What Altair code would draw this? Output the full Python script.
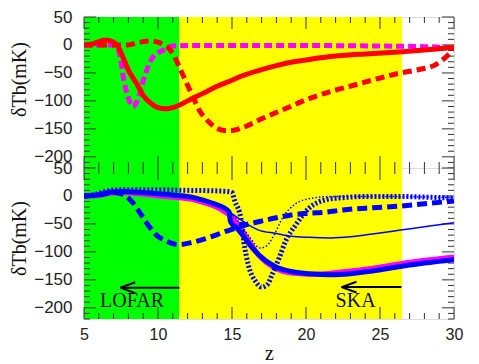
import altair as alt
import pandas as pd

# ---------------- data ----------------
# shaded observing windows (redshift ranges)
band_z0 = [5, 11.45]
band_z1 = [11.45, 26.5]
band_color = ["#00ff00", "#ffff00"]

# top panel
red_solid_z = [5, 5.6, 6.0, 6.5, 7.0, 7.3, 7.6, 8.0, 8.6, 9.0, 9.6, 10.0, 10.5, 11.0, 11.5, 12, 13, 14, 15, 15.7, 17, 18, 19, 20, 21, 22.4, 24, 26.5, 28, 30]
red_solid_T = [0, 2, 6, 9, 5, -3, -20, -45, -71, -90, -106, -112, -114, -112, -107, -100, -87, -74, -63, -55, -44, -37, -31, -27, -23, -19, -16, -12, -9, -4]

red_dash_z = [5, 8, 8.5, 9.0, 9.5, 10.0, 10.4, 10.8, 11.1, 11.45, 12.0, 12.4, 12.8, 13.3, 13.8, 14.5, 15.0, 15.7, 17.0, 18.6, 20.2, 21.7, 23.1, 24.6, 26.4, 27.8, 28.7, 29.3, 30]
red_dash_T = [0, 0, 3, 6, 7, 5, 0, -8, -20, -40, -72, -95, -117, -134, -146, -153, -153, -148, -132, -114, -96, -83, -73, -62, -50, -43, -36, -25, -7]

mag_dash_z = [5, 7.0, 7.2, 7.4, 7.7, 8.0, 8.3, 8.6, 9.0, 9.5, 10.0, 10.3, 11.0, 12, 15, 20, 25, 28, 30]
mag_dash_T = [0, 0, -4, -16, -64, -95, -110, -100, -64, -28, -14, -10, -2, -1, -1, -1, -2, -3, -5]

# bottom panel
blue_solid_z = [5, 6.0, 6.8, 7.5, 9.0, 10.0, 11.4, 12.3, 13.0, 13.7, 14.3, 14.8, 14.9, 15.3, 15.7, 16.2, 16.8, 17.9, 19.0, 20.2, 21.7, 23.0, 24.5, 26.4, 28.0, 30]
blue_solid_T = [0, 2, 7, 8, 6, 4, 1, -2, -7, -13, -19, -28, -46, -57, -69, -87, -105, -126, -135, -139, -141, -139, -134, -126, -120, -114]

mag_solid_z = [5, 6.0, 6.8, 7.5, 9.0, 10.0, 11.4, 12.3, 13.0, 13.7, 14.3, 15.0, 15.7, 16.2, 16.8, 17.9, 19.0, 20.2, 21.7, 23.0, 24.5, 26.4, 28.0, 30]
mag_solid_T = [0, 1, 5, 6, 3, 0, -3, -6, -11, -17, -25, -38, -62, -83, -106, -129, -138, -140, -138, -134, -129, -121, -115, -109]

thin_solid_z = [5, 6.0, 6.8, 7.5, 9.0, 10.0, 11.4, 12.3, 13.0, 13.7, 14.3, 14.8, 15.5, 16.2, 16.8, 18.0, 19.0, 20.2, 21.7, 23.0, 24.5, 26.4, 28, 30]
thin_solid_T = [0, 2, 7, 8, 6, 4, 1, -2, -7, -13, -19, -28, -41, -53, -61, -67, -72, -74, -75, -73, -68, -61, -55, -48]

thin_dot_z = [5, 6.0, 6.8, 7.5, 9.0, 10.0, 11.4, 12.3, 13.0, 13.7, 14.3, 14.8, 15.5, 16.2, 16.9, 17.3, 17.8, 18.4, 19.3, 20.4, 21.7, 25, 30]
thin_dot_T = [0, 2, 7, 8, 6, 4, 1, -2, -7, -13, -19, -28, -48, -74, -93, -90, -72, -40, -14, -4, -1, -1, -3]

thick_dot_z = [5, 5.8, 6.5, 7.5, 10, 12, 14, 14.7, 15.0, 15.2, 15.6, 15.8, 16.1, 16.6, 17.0, 17.4, 17.7, 18.2, 18.6, 19.3, 20.2, 21.3, 22.5, 24, 26.4, 28, 30]
thick_dot_T = [0, 3, 9, 11, 11, 10, 9, 8, 6, -10, -40, -82, -123, -153, -163, -158, -141, -110, -82, -52, -22, -7, -3, -1, -1, -2, -4]

thick_dash_z = [5, 6.0, 7.0, 7.7, 8.3, 8.85, 9.5, 9.9, 10.5, 11.4, 12.3, 13.0, 14.0, 14.5, 15.2, 16.0, 16.8, 18.0, 19.0, 20.2, 21.3, 22.5, 24.5, 26.4, 28, 30]
thick_dash_T = [0, 2, 6, 2, -12, -33, -58, -70, -80, -87, -83, -78, -69, -64, -58, -51, -46, -39, -34, -31, -29, -25, -21, -18, -14, -9]

# annotations
arrow_tail_z = [11.45, 26.45]
arrow_head_z = [7.45, 22.4]
arrow_T = [-164, -163]
label_z = [8.25, 23.35]
label_T = [-188, -188]
label_text = ["LOFAR", "SKA"]

# axis ticks
x_major = [5, 10, 15, 20, 25, 30]
x_minor = [v for v in range(5, 31) if v not in x_major]
y_major = [-200, -150, -100, -50, 0, 50]
y_minor = [v for v in range(-220, 51, 10) if v not in y_major]

# ---------------- chart ----------------
W, H = 370, 151
XS = alt.Scale(domain=[5, 30], nice=False, zero=False)
YS = alt.Scale(domain=[-220, 50], nice=False, zero=False)
TICK_COLOR = "#333333"
LABEL_FONT = "Liberation Sans"
SERIF = "Liberation Serif"

X_AXIS = alt.Axis(values=x_major, ticks=False, domain=False, grid=False,
                  labelFont=LABEL_FONT, labelFontSize=16, labelColor="#222222",
                  labelPadding=7, labelFlush=False,
                  title="z", titleFont=SERIF, titleFontSize=20, titleFontWeight="normal",
                  titleColor="#111111", titlePadding=1)


def y_axis(title_y):
    return alt.Axis(values=y_major, ticks=False, domain=False, grid=False,
                    labelFont=LABEL_FONT, labelFontSize=17, labelColor="#222222", labelPadding=12,
                    title="δTb(mK)", titleFont=SERIF, titleFontSize=20, titleFontWeight="normal",
                    titleColor="#111111", titleX=-55, titleY=title_y)


def panel(specs, show_x, title_y, extras=()):
    xa = X_AXIS if show_x else None
    ya = y_axis(title_y)

    def X(f):
        return alt.X(f, scale=XS, axis=xa)

    def Y(f):
        return alt.Y(f, scale=YS, axis=ya)

    layers = []
    layers.append(
        alt.Chart(pd.DataFrame({"z0": band_z0, "z1": band_z1, "c": band_color})).mark_rect().encode(
            x=X("z0:Q"), x2="z1:Q", color=alt.Color("c:N", scale=None))
    )
    xt_major = pd.DataFrame({"z": x_major})
    xt_minor = pd.DataFrame({"z": x_minor})
    yt_major = pd.DataFrame({"T": y_major})
    yt_minor = pd.DataFrame({"T": y_minor})
    tick = dict(color=TICK_COLOR, strokeWidth=1)
    layers += [
        alt.Chart(xt_major).mark_rule(**tick).encode(x=X("z:Q"), y=alt.value(0), y2=alt.value(12)),
        alt.Chart(xt_minor).mark_rule(**tick).encode(x=X("z:Q"), y=alt.value(0), y2=alt.value(6)),
        alt.Chart(xt_major).mark_rule(**tick).encode(x=X("z:Q"), y=alt.value(H), y2=alt.value(H - 12)),
        alt.Chart(xt_minor).mark_rule(**tick).encode(x=X("z:Q"), y=alt.value(H), y2=alt.value(H - 6)),
        alt.Chart(yt_major).mark_rule(**tick).encode(y=Y("T:Q"), x=alt.value(0), x2=alt.value(12)),
        alt.Chart(yt_minor).mark_rule(**tick).encode(y=Y("T:Q"), x=alt.value(0), x2=alt.value(6)),
        alt.Chart(yt_major).mark_rule(**tick).encode(y=Y("T:Q"), x=alt.value(W), x2=alt.value(W - 12)),
        alt.Chart(yt_minor).mark_rule(**tick).encode(y=Y("T:Q"), x=alt.value(W), x2=alt.value(W - 6)),
    ]
    for z, t, color, width, dash in specs:
        kw = dict(color=color, strokeWidth=width, interpolate="monotone", clip=True, strokeJoin="round")
        if dash:
            kw["strokeDash"] = dash
        layers.append(alt.Chart(pd.DataFrame({"z": z, "T": t})).mark_line(**kw).encode(x=X("z:Q"), y=Y("T:Q")))
    for e in extras:
        layers.append(e(X, Y))
    return alt.layer(*layers).properties(width=W, height=H)


def arrow_lines(X, Y):
    d = pd.DataFrame({"z0": arrow_tail_z, "z1": arrow_head_z, "T": arrow_T})
    return alt.Chart(d).mark_rule(color="black", strokeWidth=2).encode(x=X("z0:Q"), x2="z1:Q", y=Y("T:Q"))


def arrow_heads(X, Y):
    d = pd.DataFrame({"z1": arrow_head_z, "T": arrow_T})
    return alt.Chart(d).mark_point(
        shape="M0,0L1,-0.36M0,0L1,0.36", size=900, filled=False, color="black", strokeWidth=2, opacity=1
    ).encode(x=X("z1:Q"), y=Y("T:Q"))


def labels(X, Y):
    d = pd.DataFrame({"z": label_z, "T": label_T, "t": label_text})
    return alt.Chart(d).mark_text(font=SERIF, fontSize=20, color="#111111", baseline="middle", align="center").encode(
        x=X("z:Q"), y=Y("T:Q"), text="t:N")


top = panel([
    (mag_dash_z, mag_dash_T, "#ff00ff", 5, [8, 4]),
    (red_dash_z, red_dash_T, "#ff0000", 5, [9, 5]),
    (red_solid_z, red_solid_T, "#ff0000", 5, None),
], show_x=False, title_y=62)

bottom = panel([
    (mag_solid_z, mag_solid_T, "#ff00ff", 5, None),
    (blue_solid_z, blue_solid_T, "#0000ff", 5, None),
    (thin_solid_z, thin_solid_T, "#0000ff", 1.5, None),
    (thin_dot_z, thin_dot_T, "#0000ff", 1.5, [1.5, 2]),
    (thick_dash_z, thick_dash_T, "#0000ff", 5, [10, 5]),
    (thick_dot_z, thick_dot_T, "#0000ff", 5, [2, 2]),
], show_x=True, title_y=70, extras=(arrow_lines, arrow_heads, labels))

chart = alt.vconcat(top, bottom, spacing=0, bounds="flush").properties(
    padding={"left": 0, "top": -1, "right": 5, "bottom": 0}
).configure_view(stroke="#111111", strokeWidth=1.5).configure(background="white")

chart.save("out.html", embed_options={"renderer": "svg", "actions": False})
